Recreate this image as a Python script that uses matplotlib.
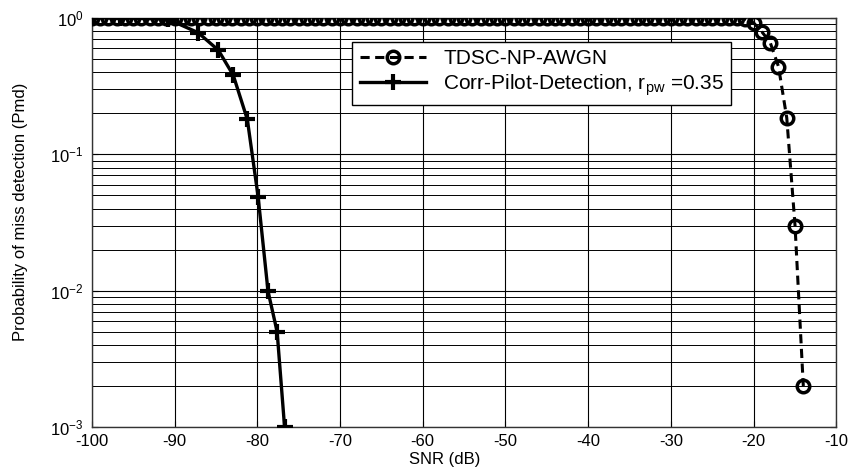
import matplotlib
matplotlib.use("Agg")
import matplotlib.pyplot as plt
import numpy as np
from matplotlib.ticker import LogLocator, NullFormatter, FixedLocator

plt.rcParams['font.family'] = ['Liberation Sans', 'DejaVu Sans']
plt.rcParams['mathtext.fontset'] = 'custom'
plt.rcParams['mathtext.rm'] = 'Liberation Sans'
plt.rcParams['mathtext.it'] = 'Liberation Sans:italic'
plt.rcParams['axes.unicode_minus'] = False

# TDSC-NP-AWGN series
tdsc_snr = list(range(-100, -21)) + [-21, -20, -19, -18, -17, -16, -15, -14]
tdsc_pmd = [1.0] * 79 + [0.98, 0.92, 0.79, 0.66, 0.44, 0.185, 0.030, 0.002]

# Corr-Pilot-Detection series
pilot_snr = [-100, -96.6, -90.8, -87.15, -84.7, -82.9, -81.2, -79.9, -78.7, -77.6, -76.7]
pilot_pmd = [1.0, 1.0, 0.98, 0.78, 0.58, 0.38, 0.18, 0.049, 0.0099, 0.005, 0.001]

x_ticks = [-100, -90, -80, -70, -60, -50, -40, -30, -20, -10]

fig = plt.figure(figsize=(8.5, 4.72), dpi=100)
ax = fig.add_axes([0.108, 0.0953, 0.876, 0.8667])

ax.set_yscale('log')
ax.set_xlim(-100, -10)
ax.set_ylim(1e-3, 1)

ax.plot(tdsc_snr, tdsc_pmd, linestyle='--', color='black', linewidth=2.2,
        marker='o', markersize=9, markerfacecolor='none', markeredgewidth=2.5,
        markeredgecolor='black', label='TDSC-NP-AWGN', zorder=3, dashes=(3, 1.8))
ax.plot(pilot_snr, pilot_pmd, linestyle='-', color='black', linewidth=2.4,
        marker='+', markersize=12, markeredgewidth=3, markeredgecolor='black',
        label=r'Corr-Pilot-Detection, r$_{\mathrm{pw}}$ =0.35', zorder=3)

ax.xaxis.set_major_locator(FixedLocator(x_ticks))
ax.yaxis.set_major_locator(LogLocator(base=10, numticks=10))
ax.yaxis.set_minor_locator(LogLocator(base=10, subs=np.arange(2, 10), numticks=10))
ax.yaxis.set_minor_formatter(NullFormatter())

ax.grid(True, which='major', color='black', linewidth=0.8, linestyle='-')
ax.grid(True, which='minor', axis='y', color='black', linewidth=0.7, linestyle='-')
ax.set_axisbelow(True)

ax.tick_params(axis='both', which='both', direction='in', top=True, right=True,
               labelsize=12, colors='black')
ax.tick_params(axis='x', which='major', length=4, pad=5)
ax.tick_params(axis='y', which='major', length=4, pad=6)
ax.tick_params(which='minor', length=2.5)

for s in ax.spines.values():
    s.set_linewidth(1.0)
    s.set_color('#333333')

ax.set_xlabel('SNR (dB)', fontsize=12)
ax.xaxis.set_label_coords(0.474, -0.062)
ax.set_ylabel('Probability of miss detection (Pmd)', fontsize=12)
ax.yaxis.set_label_coords(-0.086, 0.526)

leg = ax.legend(loc='upper left', bbox_to_anchor=(0.35, 0.942), fontsize=15,
                frameon=True, fancybox=False, shadow=False, borderpad=0.35,
                handlelength=3.2, labelspacing=0.2, borderaxespad=0)
leg.get_frame().set_edgecolor('black')
leg.get_frame().set_linewidth(1.0)
leg.get_frame().set_alpha(1)

fig.savefig('out.png', dpi=100)
